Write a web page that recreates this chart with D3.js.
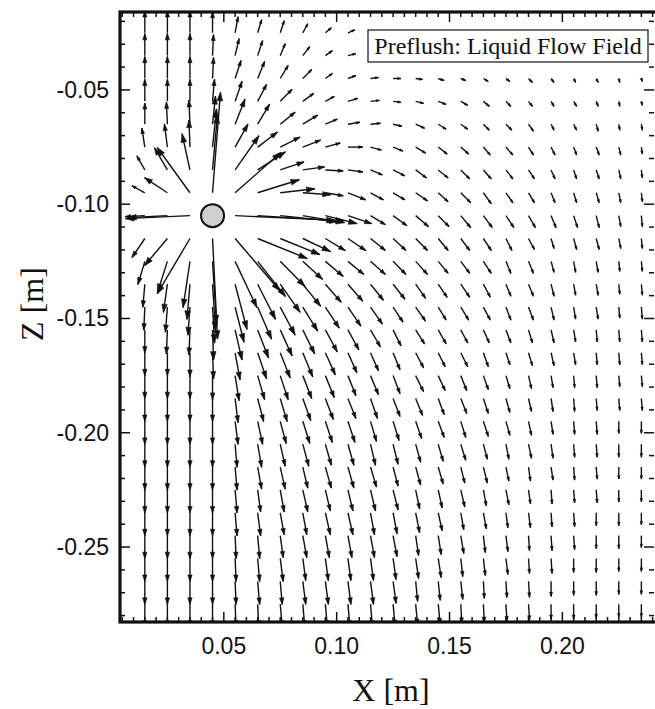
<!DOCTYPE html>
<html>
<head>
<meta charset="utf-8">
<script src="https://cdn.jsdelivr.net/npm/d3@7"></script>
<style>
  body { margin: 0; background: #fff; }
  svg { display: block; }
  .tick-label { font-family: "Liberation Sans", Arial, sans-serif; font-size: 23px; fill: #111; }
  .axis-title { font-family: "Liberation Serif", "Times New Roman", serif; font-size: 32px; fill: #111; }
  .title { font-family: "Liberation Serif", "Times New Roman", serif; font-size: 24px; fill: #111; }
</style>
</head>
<body>
<script>
// grid of the velocity field [m]
var xGrid = [0.015, 0.025, 0.035, 0.045, 0.055, 0.065, 0.075, 0.085, 0.095, 0.105, 0.115, 0.125,
             0.135, 0.145, 0.155, 0.165, 0.175, 0.185, 0.195, 0.205, 0.215, 0.225, 0.235];
var zGrid = [-0.025, -0.035, -0.045, -0.055, -0.065, -0.075, -0.085, -0.095, -0.105, -0.115, -0.125,
             -0.135, -0.145, -0.155, -0.165, -0.175, -0.185, -0.195, -0.205, -0.215, -0.225, -0.235,
             -0.245, -0.255, -0.265, -0.275];

// injection point
var source = [0.045, -0.105];

// horizontal velocity (relative units), one row per zGrid entry
var uField = [
  [0,0,0,0,3,4,4,5,6,7,7,7,6,6,5,4,4,3,3,2,1,1,1],
  [0,0,0,1,4,5,5,7,7,8,8,8,7,6,5,5,4,3,3,2,1,1,1],
  [0,0,0,1,6,7,8,9,7,8,8,8,7,6,5,5,4,4,3,2,2,1,1],
  [0,0,0,2,7,9,12,11,9,10,9,8,8,8,7,6,5,4,3,3,2,1,1],
  [0,-1,-1,3,10,12,15,15,12,12,10,9,9,8,7,6,6,5,3,3,2,1,1],
  [-3,-3,-1,4,13,20,20,18,15,15,11,10,10,9,8,7,7,5,4,3,3,2,1],
  [-8,-13,-8,5,24,28,24,22,18,15,12,12,11,10,9,8,7,6,4,3,3,2,1],
  [-13,-23,-33,8,46,42,35,28,18,18,13,12,12,10,10,8,7,6,4,3,3,2,1],
  [-20,-40,-65,0,110,78,58,42,32,24,15,14,13,11,10,9,8,7,5,4,3,2,1],
  [-13,-23,-33,5,45,50,40,28,20,18,15,13,12,10,9,8,6,6,3,3,3,2,1],
  [-7,-10,-7,4,22,28,25,20,18,16,15,13,12,10,9,8,5,5,3,2,2,1,1],
  [-2,-4,-3,3,12,18,20,18,16,15,13,12,10,9,9,7,5,5,3,2,2,1,1],
  [-1,-2,-2,2,9,14,15,15,14,13,12,10,10,8,8,7,5,5,3,2,2,1,1],
  [0,-1,-1,1,7,11,12,12,12,11,10,8,9,8,7,6,5,4,3,2,1,1,1],
  [0,0,0,1,5,9,10,10,10,9,8,7,8,7,7,5,4,4,3,2,1,1,1],
  [0,0,0,0,4,7,8,9,9,8,8,7,8,7,6,5,4,3,2,1,1,1,1],
  [0,0,0,0,3,6,7,8,8,8,7,7,7,6,6,5,4,3,2,1,1,1,1],
  [0,0,0,0,3,5,6,7,7,7,6,6,6,6,5,5,4,3,2,1,1,0,0],
  [0,0,0,0,2,4,5,6,6,6,5,5,5,5,5,4,3,3,2,1,1,0,0],
  [0,0,0,0,2,4,5,5,6,6,6,5,5,5,4,4,3,2,2,1,1,0,0],
  [0,0,0,0,2,3,4,5,5,5,5,5,4,4,4,3,3,2,1,1,1,0,0],
  [0,0,0,0,2,3,4,4,5,5,4,4,4,4,3,3,2,2,1,1,0,0,0],
  [0,0,0,0,1,2,3,4,4,4,4,4,3,3,3,2,2,1,1,1,0,0,0],
  [0,0,0,0,1,2,3,3,3,3,3,3,3,3,2,2,2,1,1,0,0,0,0],
  [0,0,0,0,1,2,2,3,3,3,3,3,2,2,2,1,1,1,0,0,0,0,0],
  [0,0,0,0,1,1,2,2,2,2,2,2,2,2,1,1,1,1,0,0,0,0,0]
];

// vertical velocity (relative units, positive = upward)
var wField = [
  [22,22,22,21,16,13,12,9,5,3,1,0,-1,-1,-2,-2,-2,-3,-3,-3,-3,-3,-3],
  [22,22,22,21,17,15,12,9,5,2,1,0,-1,-2,-2,-2,-3,-3,-3,-3,-3,-3,-3],
  [22,22,22,21,18,17,13,9,5,3,1,0,-1,-2,-2,-3,-3,-4,-4,-4,-4,-4,-3],
  [22,22,22,22,20,17,12,8,5,3,1,-1,-2,-3,-4,-5,-5,-5,-5,-5,-5,-5,-4],
  [21,22,24,28,25,20,12,9,5,2,1,-2,-4,-5,-5,-6,-6,-7,-6,-6,-7,-6,-6],
  [19,23,27,38,23,15,10,7,4,0,-3,-4,-6,-7,-7,-8,-8,-8,-8,-8,-8,-8,-7],
  [14,22,36,55,34,18,8,3,-1,-2,-5,-6,-8,-8,-9,-9,-9,-9,-9,-9,-9,-9,-8],
  [7,15,45,100,40,13,4,-2,-3,-7,-7,-7,-8,-9,-10,-11,-10,-10,-10,-10,-10,-10,-9],
  [-1,-2,-3,0,-5,-5,-6,-7,-8,-8,-9,-10,-11,-11,-12,-12,-12,-12,-12,-12,-12,-11,-11],
  [-19,-27,-55,-100,-52,-20,-16,-13,-12,-12,-12,-12,-12,-12,-12,-12,-12,-11,-10,-11,-11,-10,-10],
  [-23,-31,-46,-62,-46,-35,-25,-18,-15,-13,-13,-13,-13,-12,-12,-12,-12,-12,-11,-11,-11,-10,-10],
  [-23,-28,-35,-46,-45,-35,-28,-22,-18,-17,-16,-15,-14,-13,-13,-13,-12,-12,-12,-11,-11,-10,-11],
  [-23,-25,-28,-36,-35,-32,-28,-24,-21,-19,-17,-15,-14,-13,-13,-13,-13,-13,-13,-12,-12,-11,-12],
  [-23,-24,-25,-30,-30,-28,-26,-24,-22,-20,-17,-16,-14,-14,-13,-13,-13,-13,-13,-12,-12,-12,-12],
  [-23,-23,-24,-26,-27,-26,-25,-24,-22,-20,-18,-17,-15,-14,-14,-14,-12,-13,-13,-12,-12,-12,-12],
  [-23,-23,-23,-24,-25,-24,-24,-23,-22,-20,-19,-18,-16,-15,-15,-14,-13,-13,-12,-12,-12,-11,-11],
  [-23,-23,-23,-23,-24,-23,-23,-22,-21,-20,-20,-18,-17,-16,-15,-15,-14,-13,-13,-13,-12,-12,-12],
  [-23,-23,-23,-23,-23,-23,-22,-22,-21,-21,-20,-19,-17,-16,-16,-15,-14,-14,-13,-13,-13,-12,-12],
  [-23,-23,-23,-23,-23,-23,-22,-22,-21,-21,-21,-20,-18,-17,-16,-15,-15,-14,-14,-13,-13,-13,-13],
  [-23,-23,-23,-23,-23,-22,-22,-21,-21,-21,-20,-19,-18,-17,-16,-16,-14,-14,-13,-13,-12,-12,-12],
  [-23,-23,-23,-23,-23,-22,-22,-22,-21,-21,-21,-20,-19,-18,-17,-16,-15,-14,-14,-13,-13,-12,-12],
  [-23,-23,-23,-23,-23,-23,-22,-22,-22,-22,-22,-21,-20,-18,-17,-16,-15,-15,-14,-14,-13,-13,-12],
  [-23,-23,-23,-23,-23,-23,-22,-22,-22,-22,-22,-21,-20,-19,-18,-17,-16,-15,-15,-14,-13,-13,-12],
  [-23,-23,-23,-23,-23,-23,-23,-22,-22,-22,-22,-21,-20,-19,-18,-17,-16,-15,-15,-14,-14,-13,-13],
  [-23,-23,-23,-23,-23,-23,-23,-23,-23,-23,-23,-22,-20,-19,-18,-17,-16,-16,-15,-14,-14,-13,-13],
  [-23,-23,-23,-23,-23,-23,-23,-23,-23,-23,-23,-22,-21,-20,-19,-18,-17,-16,-15,-15,-14,-13,-13]
];

var xTicks = [0.05, 0.10, 0.15, 0.20];
var zTicks = [-0.05, -0.10, -0.15, -0.20, -0.25];
var titleText = "Preflush: Liquid Flow Field";

var width = 655, height = 709;
var plotL = 120, plotR = 654, plotT = 12, plotB = 622;
var vecScale = 0.00044;  // metres of arrow per velocity unit

var svg = d3.select("body").append("svg")
    .attr("width", width)
    .attr("height", height);

var x = d3.scaleLinear().domain([0.004, 0.2406]).range([plotL, plotR]);
var y = d3.scaleLinear().domain([-0.0159, -0.2828]).range([plotT, plotB]);

svg.append("defs").append("clipPath").attr("id", "plot-clip")
    .append("rect")
    .attr("x", plotL).attr("y", plotT)
    .attr("width", plotR - plotL).attr("height", plotB - plotT);

// build the vectors from the grid
var vectors = [];
zGrid.forEach(function(z, j){
	xGrid.forEach(function(xv, i){
		var u = uField[j][i], w = wField[j][i];
		if (u === 0 && w === 0) return;
		vectors.push({x: xv, z: z, u: u, w: w});
	});
});

function tip(d){
	return [x(d.x + d.u * vecScale), y(d.z + d.w * vecScale)];
}

function shaftPath(d){
	var t = tip(d);
	return "M" + x(d.x) + "," + y(d.z) + "L" + t[0] + "," + t[1];
}

function headPath(d){
	var x0 = x(d.x), y0 = y(d.z), t = tip(d);
	var dx = t[0] - x0, dy = t[1] - y0;
	var L = Math.sqrt(dx * dx + dy * dy);
	var h = Math.max(3.5, Math.min(9, 0.3 * L));
	var a = Math.atan2(dy, dx), s = 0.32;
	return "M" + t[0] + "," + t[1] +
		"L" + (t[0] - h * Math.cos(a - s)) + "," + (t[1] - h * Math.sin(a - s)) +
		"L" + (t[0] - h * Math.cos(a + s)) + "," + (t[1] - h * Math.sin(a + s)) + "Z";
}

var field = svg.append("g").attr("clip-path", "url(#plot-clip)");

field.selectAll("path.shaft")
    .data(vectors)
    .enter()
    .append("path")
    .attr("class", "shaft")
    .attr("d", shaftPath)
    .style("fill", "none")
    .style("stroke", "#111")
    .style("stroke-width", 1.4);

field.selectAll("path.head")
    .data(vectors)
    .enter()
    .append("path")
    .attr("class", "head")
    .attr("d", headPath)
    .style("fill", "#111")
    .style("stroke", "#111")
    .style("stroke-width", 0.6)
    .style("stroke-linejoin", "miter");

// injection well
svg.append("circle")
    .attr("cx", x(source[0]))
    .attr("cy", y(source[1]))
    .attr("r", 11.5)
    .style("fill", "#cfcfcf")
    .style("stroke", "#111")
    .style("stroke-width", 2);

// ticks on all four sides, pointing inward
var g = svg.append("g").style("stroke", "#111");
var xMinor = d3.range(0.005, 0.2401, 0.005);
xMinor.forEach(function(v){
	var major = Math.abs(v / 0.05 - Math.round(v / 0.05)) < 1e-6;
	var len = major ? 10 : 5;
	g.append("line").attr("x1", x(v)).attr("x2", x(v)).attr("y1", plotB).attr("y2", plotB - len).style("stroke-width", 1.5);
	g.append("line").attr("x1", x(v)).attr("x2", x(v)).attr("y1", plotT).attr("y2", plotT + len).style("stroke-width", 1.5);
});
var zMinor = d3.range(-0.02, -0.2801, -0.01);
zMinor.forEach(function(v){
	var major = Math.abs(v / 0.05 - Math.round(v / 0.05)) < 1e-6;
	var len = major ? 10 : 5;
	g.append("line").attr("y1", y(v)).attr("y2", y(v)).attr("x1", plotL).attr("x2", plotL + len).style("stroke-width", 1.5);
	g.append("line").attr("y1", y(v)).attr("y2", y(v)).attr("x1", plotR).attr("x2", plotR - len).style("stroke-width", 1.5);
});

// frame (right edge sits just past the picture border)
svg.append("rect")
    .attr("x", plotL).attr("y", plotT)
    .attr("width", plotR + 3 - plotL).attr("height", plotB - plotT)
    .style("fill", "none")
    .style("stroke", "#111")
    .style("stroke-width", 3.2);

// tick labels
svg.selectAll("text.xl")
    .data(xTicks)
    .enter()
    .append("text")
    .attr("class", "tick-label")
    .attr("x", function(d){ return x(d); })
    .attr("y", 654)
    .attr("text-anchor", "middle")
    .text(function(d){ return d.toFixed(2); });

svg.selectAll("text.zl")
    .data(zTicks)
    .enter()
    .append("text")
    .attr("class", "tick-label")
    .attr("x", 109)
    .attr("y", function(d){ return y(d) + 8; })
    .attr("text-anchor", "end")
    .text(function(d){ return d.toFixed(2); });

// axis titles
svg.append("text")
    .attr("class", "axis-title")
    .attr("x", 391)
    .attr("y", 701)
    .attr("text-anchor", "middle")
    .text("X [m]");

svg.append("text")
    .attr("class", "axis-title")
    .attr("transform", "translate(43,304) rotate(-90)")
    .attr("text-anchor", "middle")
    .text("Z [m]");

// title box
var tb = svg.append("g");
tb.append("rect")
    .attr("x", 368).attr("y", 30)
    .attr("width", 280).attr("height", 32)
    .style("fill", "#fff")
    .style("stroke", "#111")
    .style("stroke-width", 1.2);
tb.append("text")
    .attr("class", "title")
    .attr("x", 508)
    .attr("y", 54)
    .attr("text-anchor", "middle")
    .text(titleText);
</script>
</body>
</html>
